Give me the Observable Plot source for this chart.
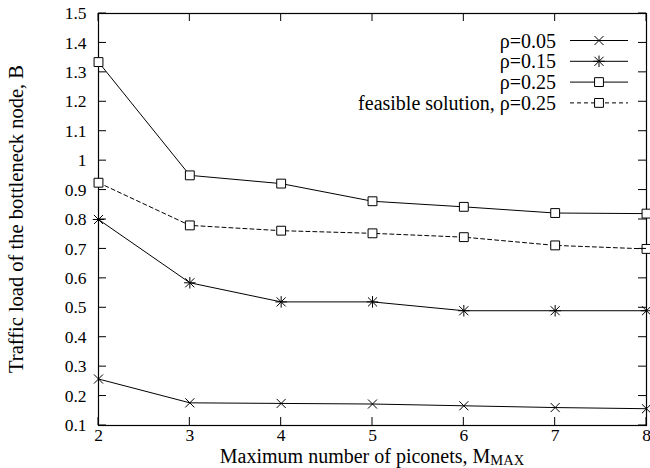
<!DOCTYPE html>
<html><head><meta charset="utf-8">
<script src="https://cdn.jsdelivr.net/npm/d3@7"></script>
<script src="https://cdn.jsdelivr.net/npm/@observablehq/plot@0.6"></script>
<style>body{margin:0;background:#fff}</style>
</head><body><div id="chart"></div>
<script>
const mmax = [2, 3, 4, 5, 6, 7, 8];
const rho005 = [0.258, 0.177, 0.175, 0.173, 0.167, 0.161, 0.157];
const rho015 = [0.80, 0.585, 0.52, 0.52, 0.49, 0.49, 0.49];
const rho025 = [1.335, 0.95, 0.922, 0.862, 0.843, 0.822, 0.82];
const feasible025 = [0.925, 0.78, 0.762, 0.753, 0.74, 0.712, 0.70];
const seriesNames = ["ρ=0.05", "ρ=0.15", "ρ=0.25", "feasible solution, ρ=0.25"];
const yTicks = [0.1, 0.2, 0.3, 0.4, 0.5, 0.6, 0.7, 0.8, 0.9, 1.0, 1.1, 1.2, 1.3, 1.4, 1.5];
const xTicks = [2, 3, 4, 5, 6, 7, 8];
const yLabel = "Traffic load of the bottleneck node, B";
const xLabel = "Maximum number of piconets, M";
const xLabelSub = "MAX";

const mk = (vals) => mmax.map((m, i) => ({m, v: vals[i]}));
const d005 = mk(rho005), d015 = mk(rho015), d025 = mk(rho025), dfe = mk(feasible025);

const W = 650, H = 468;
const font = "'Liberation Serif', 'Times New Roman', serif";
const FS = 20.5, LFS = 20, TFS = 17.5;

const plot = Plot.plot({
  width: W, height: H,
  marginLeft: 98, marginRight: 4, marginTop: 13, marginBottom: 43,
  style: {fontFamily: font, fontSize: TFS + "px", color: "black", background: "white"},
  x: {domain: [2, 8], axis: null},
  y: {domain: [0.1, 1.5], axis: null},
  marks: [
    Plot.frame({stroke: "black", strokeWidth: 1.2}),
    Plot.text(yTicks, {frameAnchor: "left", y: d => d, text: d => String(+d.toFixed(1)), textAnchor: "end", dx: -12,
      fontFamily: font, fontSize: TFS, fill: "black"}),
    Plot.text(xTicks, {frameAnchor: "bottom", x: d => d, text: d => String(d), lineAnchor: "top", dy: 3,
      fontFamily: font, fontSize: TFS, fill: "black"}),
    Plot.line(d005, {x: "m", y: "v", stroke: "black", strokeWidth: 1}),
    Plot.line(d015, {x: "m", y: "v", stroke: "black", strokeWidth: 1}),
    Plot.line(d025, {x: "m", y: "v", stroke: "black", strokeWidth: 1}),
    Plot.line(dfe, {x: "m", y: "v", stroke: "black", strokeWidth: 1, strokeDasharray: "4,3"}),
    Plot.dot(d005, {x: "m", y: "v", symbol: "times", r: 4.2, stroke: "black", fill: "none", strokeWidth: 1}),
    Plot.dot(d015, {x: "m", y: "v", symbol: "times", r: 4.2, stroke: "black", fill: "none", strokeWidth: 1}),
    Plot.dot(d015, {x: "m", y: "v", symbol: "plus", r: 3.8, stroke: "black", fill: "none", strokeWidth: 1}),
    Plot.dot(d025, {x: "m", y: "v", symbol: "square", r: 5, stroke: "black", fill: "white", strokeWidth: 1}),
    Plot.dot(dfe, {x: "m", y: "v", symbol: "square", r: 5, stroke: "black", fill: "white", strokeWidth: 1})
  ]
});

const svg = d3.select(plot);
const xs = plot.scale("x"), ys = plot.scale("y");
const L = 98, R = W - 4, T = 13, B = H - 43;
const tl = 8;
const g = svg.append("g").attr("stroke", "black").attr("stroke-width", 1);
yTicks.forEach(t => {
  const y = ys.apply(t);
  g.append("line").attr("x1", L).attr("x2", L + tl).attr("y1", y).attr("y2", y);
  g.append("line").attr("x1", R).attr("x2", R - tl).attr("y1", y).attr("y2", y);
});
xTicks.forEach(t => {
  const x = xs.apply(t);
  g.append("line").attr("x1", x).attr("x2", x).attr("y1", B).attr("y2", B - tl);
  g.append("line").attr("x1", x).attr("x2", x).attr("y1", T).attr("y2", T + tl);
});

// axis labels
svg.append("text").attr("transform", `translate(23,${(T + B) / 2}) rotate(-90)`)
  .attr("text-anchor", "middle").style("font-family", font).style("font-size", FS + "px").attr("fill", "black")
  .text(yLabel);
const xl = svg.append("text").attr("x", (L + R) / 2).attr("y", 463)
  .attr("text-anchor", "middle").style("font-family", font).style("font-size", "20px").attr("fill", "black");
xl.append("tspan").text(xLabel);
xl.append("tspan").attr("dy", 2).style("font-size", "14.5px").text(xLabelSub);

// legend
const leg = svg.append("g");
const rows = [
  {name: seriesNames[0], dash: null, sym: [[d3.symbolTimes, 4.2]]},
  {name: seriesNames[1], dash: null, sym: [[d3.symbolTimes, 4.2], [d3.symbolPlus, 3.8]]},
  {name: seriesNames[2], dash: null, sym: [[d3.symbolSquare, 5]]},
  {name: seriesNames[3], dash: "4,3", sym: [[d3.symbolSquare, 5]]}
];
rows.forEach((r, i) => {
  const y = 40.5 + i * 20.8;
  leg.append("text").attr("x", 556).attr("y", y).attr("dy", "0.35em").attr("text-anchor", "end")
    .style("font-family", font).style("font-size", LFS + "px").attr("fill", "black").text(r.name);
  leg.append("line").attr("x1", 570).attr("x2", 628).attr("y1", y).attr("y2", y)
    .attr("stroke", "black").attr("stroke-width", 1).attr("stroke-dasharray", r.dash);
  r.sym.forEach(([s, rr]) => {
    leg.append("path").attr("d", d3.symbol(s, Math.PI * rr * rr)())
      .attr("transform", `translate(599,${y})`)
      .attr("stroke", "black").attr("fill", s === d3.symbolSquare ? "white" : "none").attr("stroke-width", 1);
  });
});

document.getElementById("chart").appendChild(plot);
</script>
</body></html>
